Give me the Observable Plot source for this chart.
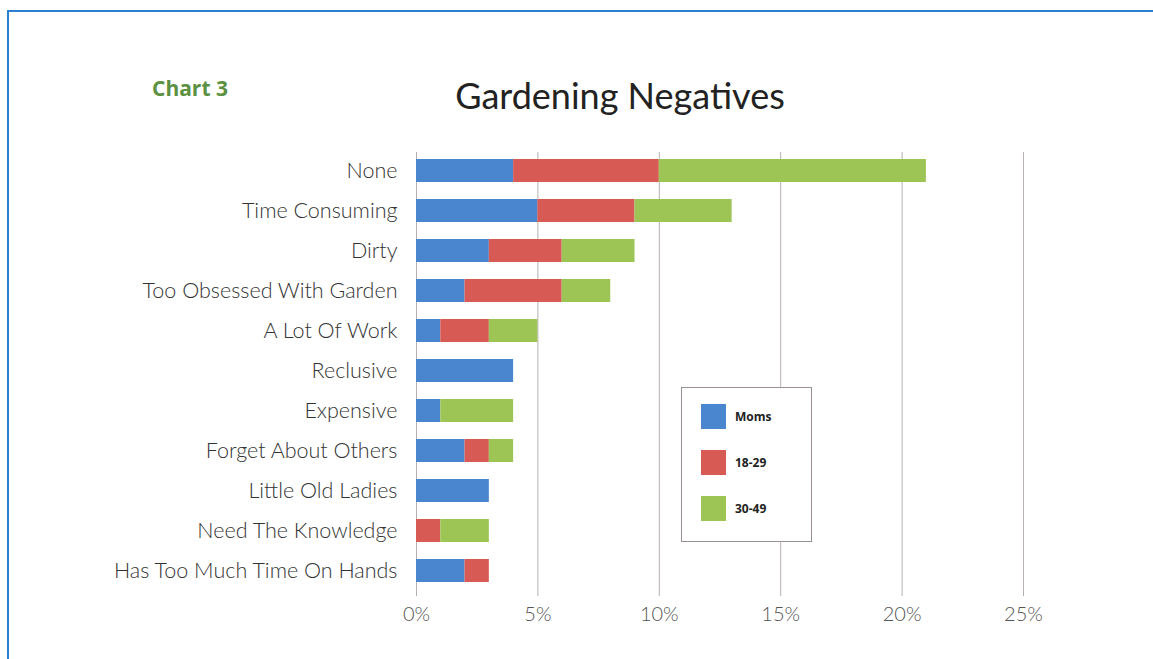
<!DOCTYPE html>
<html>
<head>
<meta charset="utf-8">
<script src="https://cdn.jsdelivr.net/npm/d3@7"></script>
<script src="https://cdn.jsdelivr.net/npm/@observablehq/plot@0.6"></script>
<style>
  html, body { margin: 0; padding: 0; background: #fff; width: 1153px; height: 659px; overflow: hidden; }
  #frame { position: absolute; left: 7px; top: 10px; width: 1170px; height: 700px; border: 2px solid #2a7fd0; box-sizing: border-box; }
  #chartlabel { position: absolute; left: 152px; top: 74px; font-family: "Open Sans", sans-serif; font-weight: 700; font-size: 21px; color: #5b9140; }
  #title { position: absolute; left: 0; width: 1240px; top: 73px; text-align: center; font-family: "Lato", "Open Sans", sans-serif; font-size: 36px; color: #222; }
  #chart { position: absolute; left: 0; top: 0; }
  #legend { position: absolute; left: 681px; top: 387px; width: 131px; height: 155px; border: 1px solid #9a9090; background: #fff; box-sizing: border-box; font-family: "Open Sans", sans-serif; font-weight: 700; font-size: 12px; color: #222; }
  .item { position: absolute; left: 19px; height: 25px; display: flex; align-items: center; }
  .sw { width: 25px; height: 25px; margin-right: 9px; }
</style>
</head>
<body>
<div id="frame"></div>
<div id="chart"></div>
<div id="chartlabel">Chart 3</div>
<div id="title">Gardening Negatives</div>
<div id="legend"></div>
<script>
const categories = ["None", "Time Consuming", "Dirty", "Too Obsessed With Garden", "A Lot Of Work", "Reclusive", "Expensive", "Forget About Others", "Little Old Ladies", "Need The Knowledge", "Has Too Much Time On Hands"];
const seriesNames = ["Moms", "18-29", "30-49"];
const moms     = [4, 5, 3, 2, 1, 4, 1, 2, 3, 0, 2];
const age18_29 = [6, 4, 3, 4, 2, 0, 0, 1, 0, 1, 1];
const age30_49 = [11, 4, 3, 2, 2, 0, 3, 1, 0, 2, 0];
const xTicks = [0, 5, 10, 15, 20, 25];
const colors = ["#4a86cf", "#d85a55", "#9cc556"];

const seriesValues = [moms, age18_29, age30_49];
const rows = [];
categories.forEach((c, i) => {
  seriesNames.forEach((s, j) => {
    rows.push({category: c, series: s, value: seriesValues[j][i]});
  });
});

const plot = Plot.plot({
  width: 1153,
  height: 659,
  marginLeft: 416,
  marginRight: 130,
  marginTop: 142,
  marginBottom: 59,
  style: {fontFamily: "Lato, 'Open Sans', sans-serif", background: "transparent"},
  x: {domain: [0, 25], ticks: xTicks, label: null},
  y: {domain: categories, padding: 0.42, label: null},
  color: {domain: seriesNames, range: colors},
  marks: [
    Plot.gridX(xTicks, {stroke: "#b8b0b0", strokeOpacity: 1, insetTop: 10, insetBottom: 4}),
    Plot.barX(rows, {y: "category", x: "value", fill: "series", order: seriesNames}),
    Plot.axisX({ticks: xTicks, tickFormat: d => d + "%", tickSize: 0, tickPadding: 6, fontSize: 20, fontWeight: 300, fill: "#555", label: null}),
    Plot.axisY({tickSize: 0, tickPadding: 19, fontSize: 21.5, fontWeight: 300, fill: "#333", label: null})
  ]
});
document.getElementById("chart").appendChild(plot);

const legend = document.getElementById("legend");
const tops = [16, 62, 108];
seriesNames.forEach((s, i) => {
  const item = document.createElement("div");
  item.className = "item";
  item.style.top = tops[i] + "px";
  const sw = document.createElement("div");
  sw.className = "sw";
  sw.style.background = colors[i];
  const t = document.createElement("span");
  t.textContent = s;
  item.appendChild(sw);
  item.appendChild(t);
  legend.appendChild(item);
});
</script>
</body>
</html>
